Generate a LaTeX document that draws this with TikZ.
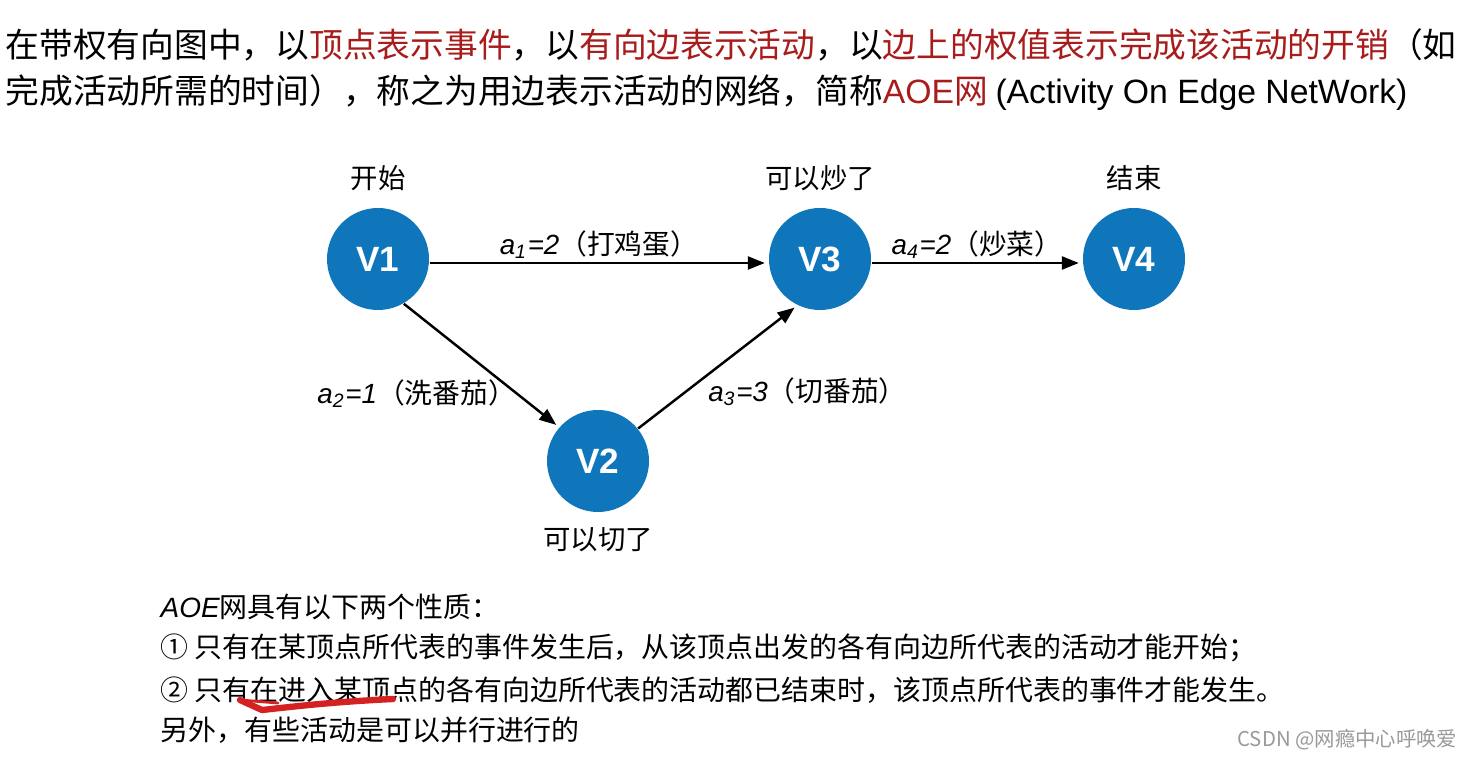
\documentclass[tikz,border=0pt]{standalone}
\usepackage{fontspec}
\setmainfont{Noto Sans CJK SC}
\newfontfamily\latin{Liberation Sans}
\usetikzlibrary{arrows.meta, positioning}

\definecolor{vblue}{HTML}{0F76BC}
\definecolor{keyred}{HTML}{A81C1C}
\definecolor{penred}{HTML}{D42222}

\newcommand{\hl}[1]{\textcolor{keyred}{#1}}
\newcommand{\wt}[3]{{\latin\itshape a\textsubscript{#1}=#2}（#3）}

\tikzset{
  vertex/.style={circle, fill=vblue, minimum size=1.02cm, inner sep=0pt,
    text=white, font=\latin\bfseries\fontsize{10pt}{12pt}\selectfont},
  event/.style={inner sep=0pt, font=\fontsize{7.8pt}{9pt}\selectfont},
  act/.style={-{Triangle[length=1.7mm,width=1.3mm]}, line width=0.7pt, shorten >=1pt},
  weight/.style={inner sep=0pt, font=\fontsize{7.9pt}{9pt}\selectfont},
  title/.style={anchor=west, inner sep=0pt, font=\fontsize{9.6pt}{12pt}\selectfont},
  prop/.style={anchor=west, inner sep=0pt, font=\fontsize{7.95pt}{9pt}\selectfont}
}

\begin{document}
\begin{tikzpicture}
    \useasboundingbox (0,0) rectangle (14.73,7.59); % Page size

    % Definition text
    \node[title] (title1) at (0.05,7.14) {在带权有向图中，以\hl{顶点表示事件}，以\hl{有向边表示活动}，以\hl{边上的权值表示完成该活动的开销}（如};
    \node[title] (title2) at (0.05,6.66) {完成活动所需的时间），称之为用边表示活动的网络，简称\hl{{\latin AOE}网} {\latin (Activity On Edge NetWork)}};

    % Events
    \node[vertex] (v1) at (3.78,5.00) {V1};
    \node[vertex] (v3) at (8.20,5.00) {V3};
    \node[vertex] (v4) at (11.34,5.00) {V4};
    \node[vertex] (v2) at (5.98,2.98) {V2};

    \node[event, above=0.16 of v1] (e1) {开始};
    \node[event, above=0.16 of v3] (e3) {可以炒了};
    \node[event, above=0.16 of v4] (e4) {结束};
    \node[event, below=0.14 of v2] (e2) {可以切了};

    % Activities
    \draw[act] ([yshift=-0.04cm]v1.east) -- node[weight, above=1pt, pos=0.5] (w1) {\wt{1}{2}{打鸡蛋}} ([yshift=-0.04cm]v3.west);
    \draw[act] ([yshift=-0.04cm]v3.east) -- node[weight, above=1pt, pos=0.5] (w4) {\wt{4}{2}{炒菜}} ([yshift=-0.04cm]v4.west);
    \draw[act] (v1.-60) -- node[weight, left=0pt, pos=0.73] (w2) {\wt{2}{1}{洗番茄}} (v2.139);
    \draw[act] (v2.39) -- node[weight, right=6pt, pos=0.3] (w3) {\wt{3}{3}{切番茄}} (v3.244);

    % Properties
    \node[prop] (p0) at (1.60,1.52) {{\latin\itshape AOE}网具有以下两个性质：};
    \node[prop] (p1) at (1.60,1.11) {① 只有在某顶点所代表的事件发生后，从该顶点出发的各有向边所代表的活动才能开始；};
    \node[prop] (p2) at (1.60,0.69) {② 只有在进入某顶点的各有向边所代表的活动都已结束时，该顶点所代表的事件才能发生。};
    \node[prop] (p3) at (1.60,0.29) {另外，有些活动是可以并行进行的};

    % Pen stroke
    \draw[penred, line width=1.8pt, line cap=round, line join=round]
      (3.93,0.60) .. controls (3.30,0.57) and (2.90,0.52) .. (2.62,0.49) -- (2.40,0.59);
    \draw[penred, line width=0.8pt, line cap=round] (2.40,0.59) -- (2.78,0.56);

    % Watermark
    \node[anchor=east, inner sep=0pt, text=black!40, font=\fontsize{5.8pt}{7pt}\selectfont] (mark1) at (14.58,0.19) {CSDN @网瘾中心呼唤爱};
\end{tikzpicture}
\end{document}
